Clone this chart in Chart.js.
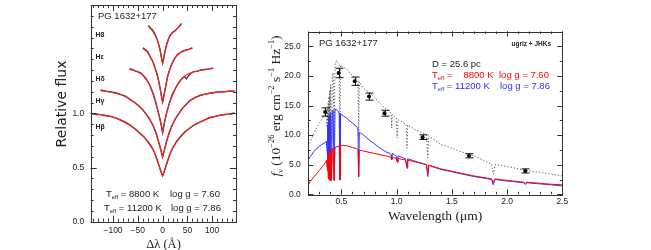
<!DOCTYPE html>
<html lang="en">
<head>
  <meta charset="UTF-8">
  <title>PG 1632+177</title>
  <script src="https://cdn.jsdelivr.net/npm/chart.js"></script>
  <style>
    body { margin: 0; background: #fff; }
    #wrap { position: relative; width: 651px; height: 250px; }
    canvas { position: absolute; top: 0; }
    #lineChart { left: 0; }
    #sedChart { left: 250px; }
  </style>
</head>
<body>
  <div id="wrap">
    <canvas id="lineChart" width="250" height="250"></canvas>
    <canvas id="sedChart" width="401" height="250"></canvas>
  </div>

  <script>
    // ---- left panel: Balmer line profiles (offset vertically) ----
    const lineNames = ['H8', 'H\u03b5', 'H\u03b4', 'H\u03b3', 'H\u03b2'];
    const lineLabelY = [35, 57.3, 79.3, 100.7, 127.3];

    const h8ModX = [-29, -22, -15, -10, -6, -3, 0, 3, 6, 10, 15, 20, 28, 38];
    const h8ModY = [1.805, 1.77, 1.72, 1.665, 1.60, 1.53, 1.46, 1.53, 1.60, 1.665, 1.72, 1.745, 1.775, 1.82];
    const h8ObsX = [-29, -25, -21, -17, -13, -9, -5, -2, 0, 2, 5, 9, 13, 17, 21, 25, 29, 33, 38];
    const h8ObsY = [1.81, 1.79, 1.775, 1.745, 1.705, 1.655, 1.585, 1.51, 1.465, 1.505, 1.58, 1.645, 1.70, 1.728, 1.75, 1.76, 1.782, 1.80, 1.83];

    const heModX = [-40, -32, -25, -18, -12, -6, -2, 0, 2, 6, 12, 18, 25, 32, 42, 60];
    const heModY = [1.60, 1.57, 1.525, 1.46, 1.37, 1.25, 1.15, 1.10, 1.15, 1.25, 1.37, 1.45, 1.51, 1.55, 1.575, 1.60];
    const heObsX = [-40, -35, -30, -25, -20, -15, -10, -6, -2, 0, 2, 6, 10, 15, 20, 25, 30, 36, 42, 48, 54, 60];
    const heObsY = [1.605, 1.588, 1.57, 1.522, 1.48, 1.415, 1.345, 1.255, 1.155, 1.105, 1.148, 1.245, 1.34, 1.415, 1.47, 1.512, 1.54, 1.562, 1.578, 1.585, 1.592, 1.605];

    const hdModX = [-67, -55, -45, -35, -25, -16, -8, -3, 0, 3, 8, 16, 25, 35, 45, 55, 75, 102];
    const hdModY = [1.405, 1.39, 1.37, 1.325, 1.25, 1.13, 1.0, 0.895, 0.82, 0.895, 1.0, 1.12, 1.22, 1.30, 1.345, 1.37, 1.395, 1.415];
    const hdObsX = [-67, -62, -56, -50, -44, -38, -32, -26, -20, -14, -8, -3, 0, 3, 8, 14, 20, 26, 32, 38, 44, 48, 52, 57, 63, 70, 77, 85, 93, 102];
    const hdObsY = [1.41, 1.408, 1.392, 1.385, 1.372, 1.345, 1.31, 1.262, 1.195, 1.105, 0.998, 0.90, 0.825, 0.898, 1.005, 1.10, 1.18, 1.232, 1.28, 1.315, 1.34, 1.318, 1.345, 1.372, 1.385, 1.39, 1.40, 1.405, 1.41, 1.418];

    const hgModX = [-125, -105, -80, -60, -40, -26, -16, -8, -3, 0, 3, 8, 16, 26, 40, 55, 80, 110, 145];
    const hgModY = [1.21, 1.195, 1.165, 1.11, 1.035, 0.945, 0.85, 0.74, 0.65, 0.595, 0.65, 0.74, 0.85, 0.95, 1.045, 1.115, 1.17, 1.195, 1.205];
    const hgObsX = [-125, -115, -105, -95, -85, -75, -65, -55, -47, -40, -33, -26, -20, -14, -8, -3, 0, 3, 8, 14, 20, 26, 33, 40, 47, 55, 65, 75, 85, 95, 105, 115, 125, 135, 145];
    const hgObsY = [1.215, 1.205, 1.198, 1.19, 1.175, 1.16, 1.128, 1.095, 1.065, 1.032, 0.99, 0.944, 0.895, 0.83, 0.735, 0.655, 0.598, 0.652, 0.742, 0.832, 0.90, 0.952, 1.0, 1.046, 1.08, 1.118, 1.145, 1.165, 1.178, 1.185, 1.193, 1.20, 1.198, 1.207, 1.205];

    const hbModX = [-145, -120, -100, -80, -60, -45, -30, -20, -12, -6, -2, 0, 2, 6, 12, 20, 30, 45, 60, 80, 100, 120, 145];
    const hbModY = [1.0, 0.985, 0.965, 0.925, 0.87, 0.815, 0.745, 0.675, 0.585, 0.50, 0.445, 0.42, 0.445, 0.50, 0.585, 0.675, 0.75, 0.825, 0.88, 0.93, 0.965, 0.985, 1.0];
    const hbObsX = [-145, -135, -125, -115, -105, -95, -85, -75, -65, -55, -45, -38, -30, -24, -18, -12, -7, -3, 0, 3, 7, 12, 18, 24, 30, 38, 45, 55, 65, 75, 85, 95, 105, 115, 125, 135, 145];
    const hbObsY = [1.002, 0.99, 0.988, 0.978, 0.972, 0.958, 0.94, 0.918, 0.89, 0.855, 0.812, 0.785, 0.74, 0.70, 0.655, 0.583, 0.515, 0.458, 0.425, 0.46, 0.518, 0.588, 0.66, 0.71, 0.752, 0.795, 0.83, 0.865, 0.895, 0.918, 0.94, 0.962, 0.97, 0.982, 0.99, 0.993, 1.003];

    const dlTicks = [-100, -50, 0, 50, 100];
    const fluxTicks = [0, 0.5, 1.0];

    // ---- right panel: energy distribution ----
    const modelLam = [0.20, 0.22, 0.25, 0.28, 0.30, 0.32, 0.34, 0.355, 0.364, 0.366,
      0.370, 0.372, 0.375, 0.377, 0.378, 0.3798, 0.3815, 0.3835, 0.385, 0.3889,
      0.392, 0.397, 0.402, 0.4102, 0.418, 0.425, 0.434, 0.442, 0.455, 0.470,
      0.480, 0.4861, 0.492, 0.50, 0.55, 0.60, 0.64, 0.650, 0.6563, 0.662,
      0.68, 0.70, 0.75, 0.80, 0.85, 0.90, 0.94, 0.950, 0.955, 0.96,
      0.98, 0.997, 1.005, 1.012, 1.04, 1.08, 1.094, 1.10, 1.15, 1.20,
      1.27, 1.282, 1.29, 1.35, 1.40, 1.50, 1.60, 1.70, 1.80, 1.86,
      1.875, 1.89, 1.95, 2.05, 2.15, 2.166, 2.18, 2.30, 2.40, 2.50];
    const hotFlux = [5.8, 6.4, 7.2, 7.8, 8.1, 8.4, 8.6, 8.8, 8.9, 8.3,
      7.2, 10.2, 11.2, 6.5, 11.8, 4.6, 12.4, 3.4, 12.9, 2.8,
      13.4, 2.5, 13.8, 2.4, 14.1, 14.2, 2.4, 14.3, 14.3, 14.0,
      13.7, 2.4, 13.6, 13.5, 12.8, 12.0, 11.4, 10.9, 2.9, 10.4,
      10.3, 10.0, 9.2, 8.5, 7.8, 7.2, 6.9, 6.6, 5.9, 6.9,
      6.7, 6.4, 5.5, 6.5, 6.3, 6.0, 4.4, 6.0, 5.7, 5.4,
      5.0, 3.0, 4.9, 4.5, 4.2, 3.8, 3.4, 3.0, 2.7, 2.5,
      1.6, 2.5, 2.35, 2.15, 1.95, 1.65, 1.95, 1.75, 1.6, 1.4];
    const coolFlux = [1.6, 2.2, 2.9, 3.6, 4.0, 4.5, 5.0, 5.4, 5.7, 5.3,
      4.6, 6.0, 6.4, 4.0, 6.6, 3.0, 6.9, 2.6, 7.1, 2.4,
      7.3, 2.3, 7.5, 2.3, 7.7, 7.8, 2.3, 7.9, 8.0, 8.1,
      8.1, 2.5, 8.2, 8.25, 8.2, 7.9, 7.7, 7.5, 3.0, 7.4,
      7.4, 7.3, 7.1, 6.9, 6.7, 6.5, 6.3, 6.2, 5.8, 6.2,
      6.15, 6.1, 5.4, 6.05, 5.95, 5.8, 4.6, 5.75, 5.55, 5.35,
      5.0, 3.4, 4.95, 4.6, 4.3, 3.9, 3.5, 3.1, 2.8, 2.6,
      2.0, 2.6, 2.45, 2.25, 2.05, 1.85, 2.05, 1.85, 1.7, 1.6];

    const dotLam = [0.20, 0.22, 0.25, 0.28, 0.30, 0.33, 0.35, 0.364, 0.368, 0.372,
      0.377, 0.380, 0.3835, 0.386, 0.3889, 0.392, 0.397, 0.402, 0.4102, 0.418,
      0.425, 0.434, 0.442, 0.455, 0.47, 0.480, 0.4861, 0.492, 0.50, 0.55,
      0.60, 0.64, 0.650, 0.6563, 0.662, 0.70, 0.76, 0.80, 0.85, 0.88,
      0.94, 0.950, 0.955, 0.96, 0.97, 0.997, 1.005, 1.012, 1.05, 1.085,
      1.094, 1.10, 1.17, 1.25, 1.27, 1.282, 1.29, 1.40, 1.47, 1.55,
      1.67, 1.78, 1.86, 1.875, 1.89, 2.0, 2.15, 2.30, 2.50];
    const dotFlux = [8.1, 9.0, 10.3, 11.4, 12.0, 12.9, 13.4, 13.8, 11.5, 14.5,
      10.5, 15.5, 10.0, 16.5, 9.5, 17.5, 9.2, 18.5, 9.0, 19.7,
      20.5, 9.0, 21.8, 22.6, 22.2, 22.0, 9.5, 21.8, 21.7, 21.1,
      20.0, 19.4, 19.2, 9.8, 19.0, 17.9, 17.1, 16.3, 15.4, 14.8,
      13.9, 13.6, 11.2, 13.5, 13.3, 12.8, 9.5, 12.6, 12.2, 11.8,
      7.8, 11.7, 10.9, 10.3, 10.0, 6.2, 9.9, 8.4, 8.0, 7.4,
      6.7, 5.8, 5.1, 3.4, 5.0, 4.7, 4.1, 3.7, 3.1];

    // ugriz + JHKs photometry
    const photLam = [0.353, 0.475, 0.620, 0.750, 0.890, 1.235, 1.655, 2.165];
    const photFlux = [13.9, 20.5, 19.1, 16.5, 13.7, 9.65, 6.5, 3.95];
    const photErr = [0.7, 0.8, 0.7, 0.6, 0.5, 0.4, 0.35, 0.35];

    const lamTicks = [0.5, 1.0, 1.5, 2.0, 2.5];
    const fnuTicks = [0, 5, 10, 15, 20, 25];

    const SANS = '"Liberation Sans", Arial, sans-serif';
    const DSANS = '"DejaVu Sans", sans-serif';
    const SERIF = '"Liberation Serif", "DejaVu Serif", serif';

    const pts = (xs, ys) => xs.map((x, i) => ({ x: x, y: ys[i] }));

    // frame with inward ticks on all four sides, plus the tick labels
    const framePlugin = {
      id: 'frame',
      afterDraw(chart, args, o) {
        const ctx = chart.ctx, a = chart.chartArea;
        const xs = chart.scales.x, ys = chart.scales.y;
        ctx.save();
        ctx.strokeStyle = '#333';
        ctx.lineWidth = 1;
        ctx.strokeRect(Math.round(a.left) + 0.5, Math.round(a.top) + 0.5,
          Math.round(a.right - a.left), Math.round(a.bottom - a.top));
        ctx.beginPath();
        const xMark = (v, len) => {
          const p = Math.round(xs.getPixelForValue(v)) + 0.5;
          ctx.moveTo(p, a.bottom); ctx.lineTo(p, a.bottom - len);
          ctx.moveTo(p, a.top); ctx.lineTo(p, a.top + len);
        };
        const yMark = (v, len) => {
          const p = Math.round(ys.getPixelForValue(v)) + 0.5;
          ctx.moveTo(a.left, p); ctx.lineTo(a.left + len, p);
          ctx.moveTo(a.right, p); ctx.lineTo(a.right - len, p);
        };
        for (let k = Math.ceil(xs.min / o.xMinor - 1e-6); k * o.xMinor <= xs.max + 1e-9; k++) xMark(k * o.xMinor, o.minorLen);
        for (let k = Math.ceil(ys.min / o.yMinor - 1e-6); k * o.yMinor <= ys.max + 1e-9; k++) yMark(k * o.yMinor, o.minorLen);
        o.xMajor.forEach(v => xMark(v, o.majorLen));
        o.yMajor.forEach(v => yMark(v, o.majorLen));
        ctx.stroke();

        ctx.fillStyle = '#222';
        ctx.font = o.labelSize + 'px ' + SANS;
        ctx.textBaseline = 'middle';
        ctx.textAlign = 'center';
        o.xMajor.forEach(v => ctx.fillText(o.xFmt(v), xs.getPixelForValue(v), a.bottom + o.xLabelGap));
        ctx.textAlign = 'right';
        o.yMajor.forEach(v => ctx.fillText(o.yFmt(v), a.left - o.yLabelGap, ys.getPixelForValue(v)));
        ctx.restore();
      }
    };

    // text with sub/superscripts: parts = [[text, kind], ...]
    function richWidth(ctx, parts, size, family) {
      let w = 0;
      parts.forEach(([t, kind]) => {
        const fs = (kind === 'sub' || kind === 'sup') ? size * 0.62 : size;
        ctx.font = (kind === 'it' ? 'italic ' : '') + fs + 'px ' + family;
        w += ctx.measureText(t).width;
      });
      return w;
    }
    function drawRich(ctx, parts, x, y, size, family, color) {
      ctx.fillStyle = color;
      ctx.textBaseline = 'middle';
      ctx.textAlign = 'left';
      let cx = x;
      parts.forEach(([t, kind]) => {
        let fs = size, dy = 0;
        if (kind === 'sub') { fs = size * 0.62; dy = size * 0.32; }
        if (kind === 'sup') { fs = size * 0.62; dy = -size * 0.38; }
        ctx.font = (kind === 'it' ? 'italic ' : '') + fs + 'px ' + family;
        ctx.fillText(t, cx, y + dy);
        cx += ctx.measureText(t).width;
      });
    }
    const teff = [['T', ''], ['eff', 'sub']];

    const lineTexts = {
      id: 'lineTexts',
      afterDraw(chart) {
        const ctx = chart.ctx;
        ctx.save();
        drawRich(ctx, [['PG 1632+177', '']], 98, 16.5, 9.5, SANS, '#222');
        ctx.font = 'bold 7px ' + SANS;
        lineNames.forEach((n, i) => ctx.fillText(n, 95.5, lineLabelY[i]));
        drawRich(ctx, teff.concat([[' = 8800 K', '']]), 106, 194, 9.5, SANS, '#222');
        drawRich(ctx, [['log g = 7.60', '']], 170, 194, 9.5, SANS, '#222');
        drawRich(ctx, teff.concat([[' = 11200 K', '']]), 104, 208.5, 9.5, SANS, '#222');
        drawRich(ctx, [['log g = 7.86', '']], 171, 208.5, 9.5, SANS, '#222');
        // axis titles
        ctx.font = '12.5px ' + SERIF;
        ctx.textAlign = 'center';
        ctx.fillText('\u0394\u03bb (\u00c5)', 163.5, 245);
        ctx.translate(62, 104);
        ctx.rotate(-Math.PI / 2);
        ctx.font = '14px ' + DSANS;
        ctx.fillText('Relative flux', 0, 0);
        ctx.restore();
      }
    };

    const sedTexts = {
      id: 'sedTexts',
      afterDraw(chart) {
        const ctx = chart.ctx;
        ctx.save();
        drawRich(ctx, [['PG 1632+177', '']], 69, 43, 9.5, SANS, '#222');
        ctx.font = 'bold 6.5px ' + SANS;
        ctx.textAlign = 'right';
        ctx.fillText('ugriz + JHKs', 301, 44);
        drawRich(ctx, [['D = 25.6 pc', '']], 182, 64, 9.5, SANS, '#222');
        drawRich(ctx, teff.concat([[' =', '']]), 182, 75.5, 9.5, SANS, '#ff0000');
        drawRich(ctx, [['8800 K', '']], 213.5, 75.5, 9.5, SANS, '#ff0000');
        drawRich(ctx, [['log g = 7.60', '']], 249, 75.5, 9.5, SANS, '#ff0000');
        drawRich(ctx, teff.concat([[' = 11200 K', '']]), 182, 86.5, 9.5, SANS, '#2f2fff');
        drawRich(ctx, [['log g = 7.86', '']], 250, 86.5, 9.5, SANS, '#2f2fff');
        // x title
        ctx.font = '13.5px ' + SERIF;
        ctx.textAlign = 'center';
        ctx.fillStyle = '#222';
        ctx.fillText('Wavelength (\u03bcm)', 185, 216.5);
        // y title
        const yt = [['f', 'it'], ['\u03bd', 'sub'], [' (10', ''], ['\u221226', 'sup'], [' erg cm', ''],
          ['\u22122', 'sup'], [' s', ''], ['\u22121', 'sup'], [' Hz', ''], ['\u22121', 'sup'], [')', '']];
        const w = richWidth(ctx, yt, 13.5, SERIF);
        ctx.translate(26.5, 106);
        ctx.rotate(-Math.PI / 2);
        drawRich(ctx, yt, -w / 2, 0, 13.5, SERIF, '#222');
        ctx.restore();
      }
    };

    // error bars for the photometric points
    const errorBars = {
      id: 'errorBars',
      afterDatasetsDraw(chart) {
        const ctx = chart.ctx, xs = chart.scales.x, ys = chart.scales.y;
        ctx.save();
        ctx.strokeStyle = '#111';
        ctx.lineWidth = 1;
        ctx.beginPath();
        photLam.forEach((l, i) => {
          const px = Math.round(xs.getPixelForValue(l)) + 0.5;
          const y1 = ys.getPixelForValue(photFlux[i] + photErr[i]);
          const y2 = ys.getPixelForValue(photFlux[i] - photErr[i]);
          ctx.moveTo(px, y1); ctx.lineTo(px, y2);
          ctx.moveTo(px - 4, y1); ctx.lineTo(px + 4, y1);
          ctx.moveTo(px - 4, y2); ctx.lineTo(px + 4, y2);
        });
        ctx.stroke();
        ctx.restore();
      }
    };

    const obsSet = (xs, ys) => ({ data: pts(xs, ys), order: 2, borderColor: 'rgba(40,40,40,0.9)', borderWidth: 1.4, pointRadius: 0, tension: 0 });
    const modSet = (xs, ys) => ({ data: pts(xs, ys), order: 1, borderColor: '#ff2020', borderWidth: 1.1, pointRadius: 0, cubicInterpolationMode: 'monotone' });

    const hiddenAxis = { grid: { display: false, drawTicks: false }, border: { display: false }, ticks: { display: false } };

    var lineChart = new Chart(document.getElementById('lineChart'), {
      type: 'line',
      data: {
        datasets: [
          obsSet(h8ObsX, h8ObsY), obsSet(heObsX, heObsY), obsSet(hdObsX, hdObsY),
          obsSet(hgObsX, hgObsY), obsSet(hbObsX, hbObsY),
          modSet(h8ModX, h8ModY), modSet(heModX, heModY), modSet(hdModX, hdModY),
          modSet(hgModX, hgModY), modSet(hbModX, hbModY)
        ]
      },
      options: {
        responsive: false,
        animation: false,
        layout: { padding: { left: 0, right: 14, top: 5, bottom: 0 } },
        plugins: {
          legend: { display: false },
          tooltip: { enabled: false },
          frame: {
            xMajor: dlTicks, yMajor: fluxTicks, xMinor: 10, yMinor: 0.1, majorLen: 6, minorLen: 3,
            labelSize: 8.5, xLabelGap: 8.5, yLabelGap: 6.5,
            xFmt: v => v < 0 ? '\u2212' + Math.abs(v) : String(v),
            yFmt: v => v.toFixed(1)
          }
        },
        scales: {
          x: Object.assign({ type: 'linear', min: -145, max: 148, afterFit: s => { s.height = 28.3; } }, hiddenAxis),
          y: Object.assign({ min: 0, max: 2.0, afterFit: s => { s.width = 90.7; } }, hiddenAxis)
        }
      },
      plugins: [framePlugin, lineTexts]
    });

    var sedChart = new Chart(document.getElementById('sedChart'), {
      type: 'line',
      data: {
        datasets: [
          { data: pts(photLam, photFlux), order: 0, showLine: false, pointRadius: 2, pointBackgroundColor: '#000', pointBorderColor: '#000', pointBorderWidth: 0 },
          { data: pts(modelLam, coolFlux), order: 1, borderColor: '#ff0000', borderWidth: 1, pointRadius: 0, tension: 0 },
          { data: pts(modelLam, hotFlux), order: 2, borderColor: '#3333ff', borderWidth: 1, pointRadius: 0, tension: 0 },
          { data: pts(dotLam, dotFlux), order: 3, borderColor: '#555', borderWidth: 1, borderDash: [1.2, 2], pointRadius: 0, tension: 0 }
        ]
      },
      options: {
        responsive: false,
        animation: false,
        layout: { padding: { left: 0, right: 88.7, top: 31.5, bottom: 0 } },
        plugins: {
          legend: { display: false },
          tooltip: { enabled: false },
          frame: {
            xMajor: lamTicks, yMajor: fnuTicks, xMinor: 0.1, yMinor: 2.5, majorLen: 5, minorLen: 2.5,
            labelSize: 8.5, xLabelGap: 7, yLabelGap: 7.5,
            xFmt: v => v.toFixed(1),
            yFmt: v => v.toFixed(1)
          }
        },
        scales: {
          x: Object.assign({ type: 'linear', min: 0.2, max: 2.5, afterFit: s => { s.height = 55.7; } }, hiddenAxis),
          y: Object.assign({ min: 0, max: 27.5, afterFit: s => { s.width = 58.3; } }, hiddenAxis)
        }
      },
      plugins: [framePlugin, errorBars, sedTexts]
    });
  </script>
</body>
</html>
